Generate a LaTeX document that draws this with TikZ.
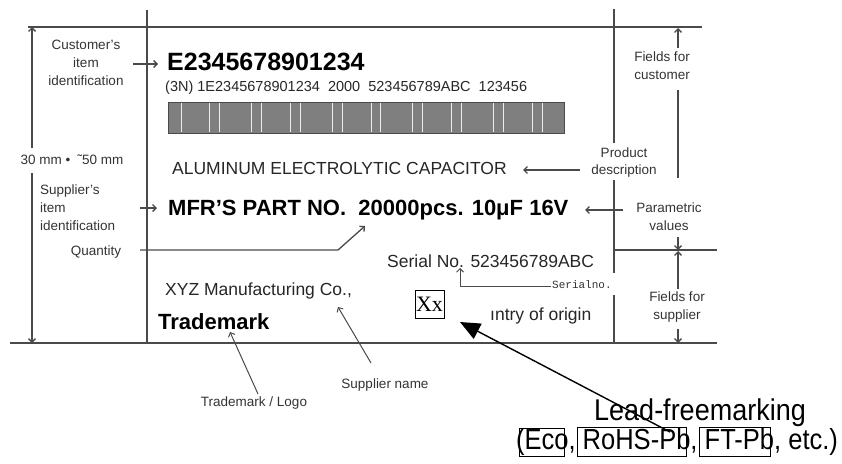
\documentclass[tikz,border=0pt]{standalone}
\usepackage{fontspec}
\setmainfont{Liberation Sans}
\newfontfamily\serifx{Liberation Serif}
\newfontfamily\monox{Liberation Mono}
\usetikzlibrary{arrows.meta}
\definecolor{lg}{HTML}{4A4A4A}
\definecolor{tg}{HTML}{333333}
\definecolor{bc}{HTML}{7F7F7F}
\newcommand\shbox[1]{\makebox[0pt][l]{\hspace{-6pt}\fboxsep=0pt\fboxrule=1pt\fbox{\rule[-0.22em]{0pt}{0.9em}\phantom{#1}}}#1}
\begin{document}
\begin{tikzpicture}[x=1pt,y=-1pt,
 ln/.style={draw=lg,line width=1.3pt},
 arr/.style={ln,-{Straight Barb[length=3.5pt,width=7pt]}},
 lbl/.style={inner sep=0pt,text=tg,align=center,font=\fontsize{13.5}{18}\selectfont},
 txt/.style={inner sep=0pt,anchor=base west,text=black!85},
]
\useasboundingbox (0,0) rectangle (842,463);
% frame lines
\coordinate (tl) at (28,27); \coordinate (tr) at (702,27);
\coordinate (bl) at (10,343); \coordinate (br) at (717,343);
\coordinate (lv1) at (147,10); \coordinate (lv2) at (147,343);
\coordinate (rv1) at (614,9); \coordinate (rv2) at (614,143);
\coordinate (rv3) at (614,180); \coordinate (rv4) at (614,273);
\coordinate (rv5) at (614,295); \coordinate (rv6) at (614,343);
\coordinate (mh1) at (614,250); \coordinate (mh2) at (717,250);
\draw[ln] (tl) -- (tr);
\draw[ln] (bl) -- (br);
\draw[ln] (lv1) -- (lv2);
\draw[ln] (rv1) -- (rv2);
\draw[ln] (rv3) -- (rv4);
\draw[ln] (rv5) -- (rv6);
\draw[ln] (mh1) -- (mh2);

% label content
\node[txt,text=black,font=\bfseries\fontsize{25}{25}\selectfont] (cid) at (167,70) {E2345678901234};
\node[txt,font=\fontsize{14.5}{14.5}\selectfont] (code) at (165,91) {(3N) 1E2345678901234\ \ 2000\ \ 523456789ABC\ \ 123456};
\node[draw=lg,line width=1pt,fill=bc,minimum width=396pt,minimum height=31pt,inner sep=0pt,anchor=north west] (bar) at (168,102) {};
\foreach \x in {181,209,219,251,261,290,300,332,342,371,380,412,422,451,461,493,503,532,542}
  \draw[white!85!gray,line width=0.9pt] (\x,103) -- (\x,132);
\node[txt,font=\fontsize{17.5}{17.5}\selectfont] (desc) at (172,174) {ALUMINUM ELECTROLYTIC CAPACITOR};
\node[txt,text=black,font=\bfseries\fontsize{22}{22}\selectfont] (mfr) at (168,215) {MFR’S PART NO.\ \ 20000pcs. 10μF 16V};
\node[txt,font=\fontsize{17.5}{17.5}\selectfont] (ser) at (387,267) {Serial No. 523456789ABC};
\node[txt,font=\fontsize{17.5}{17.5}\selectfont] (xyz) at (165,295) {XYZ Manufacturing Co.,};
\node[txt,text=black,font=\bfseries\fontsize{22}{22}\selectfont] (tm) at (158,329) {Trademark};
\node[txt,font=\fontsize{17.5}{17.5}\selectfont] (coo) at (490,320) {ıntry of origin};
\node[draw=black,line width=1pt,inner sep=0pt,minimum width=29pt,minimum height=28pt,font=\serifx\fontsize{22}{22}\selectfont] (xx) at (429.5,304) {Xx};
\node[inner sep=0pt,anchor=base west,font=\monox\fontsize{11}{11}\selectfont,text=tg] (sno) at (552,288) {Serialno.};

% annotations left
\node[lbl] (cust) at (86,63) {Customer's\\item\\identification};
\node[lbl,align=left,anchor=west] (supp) at (40,208) {Supplier's\\item\\identification};
\node[lbl] (qty) at (96,252) {Quantity};
\node[lbl] (dim) at (72,160) {30 mm •\ \ ˜50 mm};
% annotations right
\node[lbl,font=\fontsize{13.5}{17}\selectfont] (pd) at (624,163) {Product\\description};
\node[lbl] (fc) at (662,66) {Fields for\\customer};
\node[lbl] (pv) at (669,217) {Parametric\\values};
\node[lbl] (fs) at (677,307) {Fields for\\supplier};
% annotations bottom
\node[lbl] (tml) at (254,403) {Trademark / Logo};
\node[lbl] (sn) at (385,385) {Supplier name};
\node[inner sep=0pt,font=\fontsize{30}{30}\selectfont] (lf1) at (700,413) {\scalebox{0.9}[1]{Lead-freemarking}};
\node[inner sep=0pt,font=\fontsize{29}{29}\selectfont] (lf2) at (677,442) {\scalebox{0.88}[1]{(\shbox{Eco}, \shbox{RoHS-Pb}, \shbox{FT-Pb}, etc.)}};

% arrow coordinates
\coordinate (a1s) at (133,64); \coordinate (a1e) at (158,64);
\coordinate (a2s) at (140,208); \coordinate (a2e) at (157,208);
\coordinate (a3s) at (580,170); \coordinate (a3e) at (523,170);
\coordinate (a4s) at (623,210); \coordinate (a4e) at (585,210);
\coordinate (q1) at (140,250); \coordinate (q2) at (338,250); \coordinate (q3) at (365,226);
\coordinate (s1) at (551,286); \coordinate (s2) at (460,286); \coordinate (s3) at (460,268);
\coordinate (sn1) at (371,363); \coordinate (sn2) at (338,307);
\coordinate (tm1) at (258,394); \coordinate (tm2) at (230,332);
\coordinate (lf1s) at (670,432); \coordinate (lf1e) at (460,322);
\coordinate (d1) at (32,148); \coordinate (d2) at (32,27);
\coordinate (d3) at (32,173); \coordinate (d4) at (32,343);
\coordinate (f1) at (678,48); \coordinate (f2) at (678,28);
\coordinate (f3) at (678,90); \coordinate (f4) at (678,178);
\coordinate (f5) at (678,237); \coordinate (f6) at (678,250);
\coordinate (f7) at (678,289); \coordinate (f8) at (678,251);
\coordinate (f9) at (678,329); \coordinate (f10) at (678,343);

\draw[arr] (a1s) -- (a1e);
\draw[arr] (a2s) -- (a2e);
\draw[arr] (a3s) -- (a3e);
\draw[arr] (a4s) -- (a4e);
\draw[arr] (q1) -- (q2) -- (q3);
\draw[arr,line width=1pt] (s1) -- (s2) -- (s3);
\draw[arr,line width=1pt] (sn1) -- (sn2);
\draw[arr,line width=1pt] (tm1) -- (tm2);
\draw[black,line width=1.4pt,-{Triangle[length=20pt,width=17pt]}] (lf1s) -- (lf1e);
\draw[arr] (d1) -- (d2);
\draw[arr] (d3) -- (d4);
\draw[arr] (f1) -- (f2);
\draw[ln] (f3) -- (f4);
\draw[arr] (f5) -- (f6);
\draw[arr] (f7) -- (f8);
\draw[arr] (f9) -- (f10);
\end{tikzpicture}
\end{document}
